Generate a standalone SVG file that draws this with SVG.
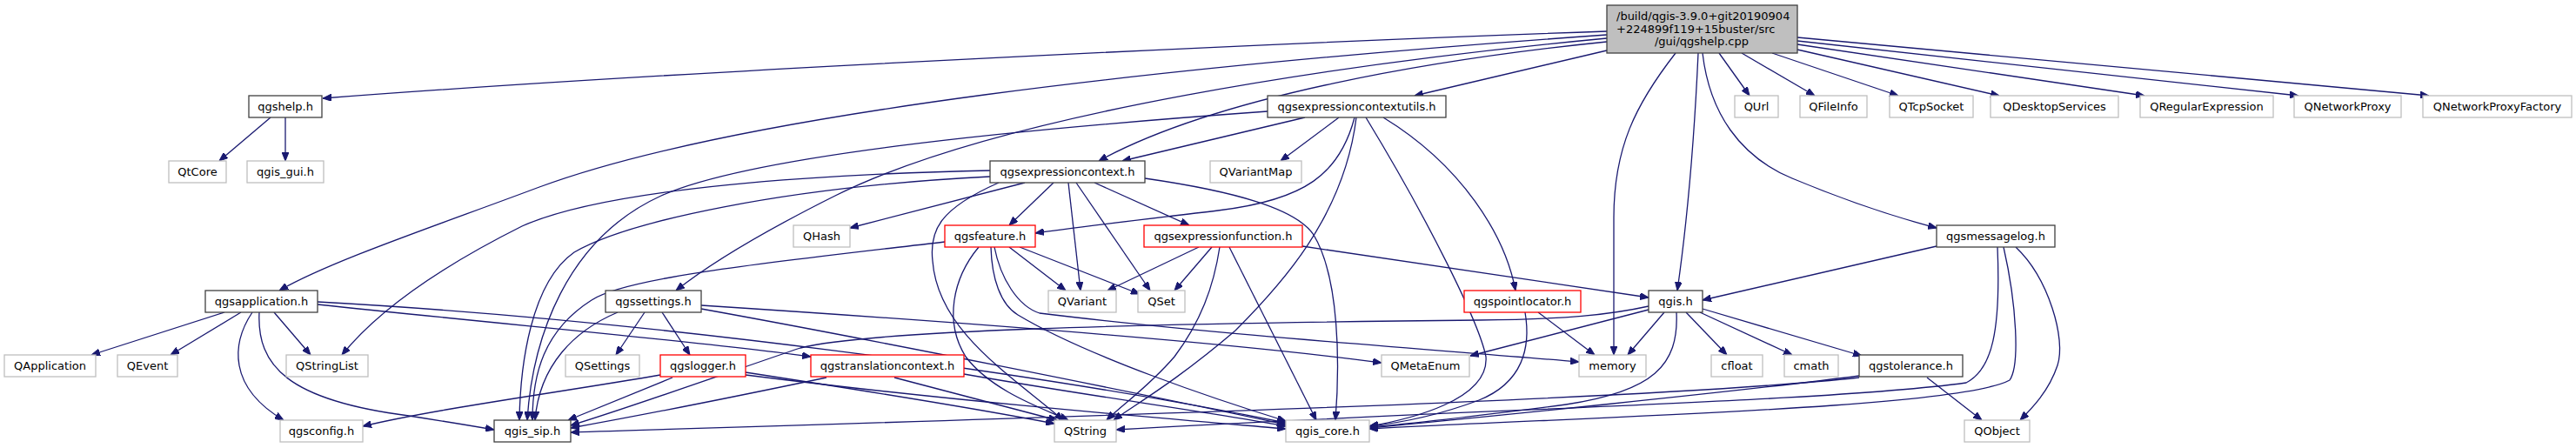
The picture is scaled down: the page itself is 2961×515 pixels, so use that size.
<svg xmlns="http://www.w3.org/2000/svg" width="2961" height="515" viewBox="0 0 2961 515">
<style>
rect{stroke-width:1.3}
.doc rect{fill:#fff;stroke:#404040}
.ext rect{fill:#fff;stroke:#bfbfbf}
.red rect{fill:#fff;stroke:#ff0000}
.main rect{fill:#bfbfbf;stroke:#404040}
text{font-family:"DejaVu Sans","Liberation Sans",sans-serif;font-size:13px;fill:#000;text-anchor:middle}
.edges path{fill:none;stroke:#191970;stroke-width:1.3;marker-end:url(#arr)}
</style>
<defs>
<marker id="arr" viewBox="0 0 10 8" refX="10" refY="4" markerWidth="10" markerHeight="8" markerUnits="userSpaceOnUse" orient="auto">
<path d="M0,0 L10,4 L0,8 z" fill="#191970" stroke="#191970" stroke-width="1"/>
</marker>
</defs>
<rect width="2961" height="515" fill="#fff"/>
<g class="edges" id="connectors">
<path d="M1847,36 C1500,48 800,80 371,113"/>
<path d="M1847,40 C1350,75 850,130 620,215 C500,260 380,300 321,334"/>
<path d="M1847,44 C1550,72 1150,130 960,225 C880,265 820,300 777,334"/>
<path d="M1847,48 C1650,68 1400,110 1263,185"/>
<path d="M1847,58 L1626,110"/>
<path d="M1926,61 C1880,120 1855,170 1855,250 L1855,408"/>
<path d="M1952,61 C1948,150 1940,250 1928,334"/>
<path d="M1957,61 C1965,130 2000,180 2060,205 C2120,230 2180,250 2226,262"/>
<path d="M1976,61 L2011,110"/>
<path d="M2002,61 L2086,110"/>
<path d="M2037,61 L2182,110"/>
<path d="M2066,57 L2298,110"/>
<path d="M2066,51 L2465,110"/>
<path d="M2066,47 L2642,110"/>
<path d="M2066,43 L2792,110"/>
<path d="M311,135 L252,185"/>
<path d="M328,135 L328,185"/>
<path d="M258,359 L105,408"/>
<path d="M277,359 L196,408"/>
<path d="M315,359 L357,408"/>
<path d="M290,359 C266,395 262,445 326,483"/>
<path d="M298,359 C295,420 330,460 470,478 C515,485 545,490 568,494"/>
<path d="M365,350 C600,375 800,392 932,410"/>
<path d="M365,347 C750,368 1200,430 1478,486"/>
<path d="M1457,128 C1150,150 860,180 760,225 C650,275 612,390 606,483"/>
<path d="M1500,135 L1290,185"/>
<path d="M1539,135 L1472,185"/>
<path d="M1557,135 C1540,200 1500,230 1400,242 C1300,254 1230,262 1190,268"/>
<path d="M1559,135 C1545,250 1470,330 1420,380 C1350,440 1300,468 1280,483"/>
<path d="M1570,135 C1640,250 1700,370 1708,410 C1712,460 1620,482 1574,490"/>
<path d="M1590,135 C1680,190 1730,270 1742,334"/>
<path d="M1138,196 C950,200 700,215 600,260 C520,300 440,350 393,408"/>
<path d="M1138,203 C900,215 720,255 660,290 C610,325 598,420 597,483"/>
<path d="M1178,210 L977,262"/>
<path d="M1148,210 C1080,240 1068,265 1072,300 C1078,380 1160,430 1222,483"/>
<path d="M1211,210 L1160,259"/>
<path d="M1228,210 L1242,334"/>
<path d="M1237,210 L1322,334"/>
<path d="M1258,210 L1367,259"/>
<path d="M1316,205 C1420,220 1490,240 1510,270 C1540,320 1540,420 1535,483"/>
<path d="M1086,278 C900,300 720,318 680,345 C625,380 612,430 612,483"/>
<path d="M1125,284 C1095,320 1085,370 1110,410 C1140,450 1200,470 1228,483"/>
<path d="M1139,284 C1140,320 1150,350 1170,362 C1250,410 1400,460 1478,484"/>
<path d="M1143,284 C1150,320 1170,352 1195,360 C1400,385 1650,402 1815,416"/>
<path d="M1160,284 L1225,334"/>
<path d="M1172,284 L1310,338"/>
<path d="M1378,284 L1273,334"/>
<path d="M1393,284 L1350,334"/>
<path d="M1402,284 C1395,330 1380,370 1350,410 C1320,445 1290,465 1272,483"/>
<path d="M1413,284 L1513,483"/>
<path d="M1497,283 L1895,342"/>
<path d="M2226,283 L1957,345"/>
<path d="M2317,284 C2355,320 2375,390 2365,420 C2355,450 2335,470 2322,483"/>
<path d="M2296,284 C2300,380 2290,425 2260,440 C2100,462 1700,470 1283,494"/>
<path d="M2303,284 C2318,350 2322,420 2310,437 C2250,470 1800,480 1574,493"/>
<path d="M741,359 L708,408"/>
<path d="M761,359 L793,408"/>
<path d="M710,359 C660,380 620,420 615,483"/>
<path d="M806,351 C1100,370 1400,392 1588,417"/>
<path d="M806,355 C1000,390 1300,450 1478,488"/>
<path d="M1895,356 L1690,409"/>
<path d="M1913,359 L1871,408"/>
<path d="M1938,359 L1985,408"/>
<path d="M1954,359 L2060,408"/>
<path d="M1957,355 L2140,409"/>
<path d="M1927,359 C1930,420 1900,450 1800,465 C1700,478 1620,487 1574,491"/>
<path d="M1895,352 C1850,362 1800,367 1700,368 C1300,372 1000,380 920,400 C860,420 720,470 656,489"/>
<path d="M1768,359 L1833,408"/>
<path d="M1753,359 C1760,400 1750,440 1700,460 C1660,475 1620,485 1574,490"/>
<path d="M759,431 C650,450 500,470 417,490"/>
<path d="M773,434 L653,483"/>
<path d="M857,428 C1000,450 1150,475 1212,487"/>
<path d="M857,431 C1100,462 1350,482 1478,493"/>
<path d="M950,434 C850,455 750,475 656,492"/>
<path d="M1028,434 L1215,483"/>
<path d="M1108,430 C1250,455 1400,475 1478,490"/>
<path d="M2215,434 L2278,483"/>
<path d="M2137,432 C2000,450 1700,480 1574,492"/>
<path d="M2137,434 C1900,460 1200,480 656,497"/>
</g>
<g id="node-main" class="main"><rect x="1847" y="6" width="219" height="55"/>
<text x="1858" y="23" style="text-anchor:start">/build/qgis-3.9.0+git20190904</text>
<text x="1858" y="38" style="text-anchor:start">+224899f119+15buster/src</text>
<text x="1956" y="52">/gui/qgshelp.cpp</text></g>
<g id="node-qgshelp" class="doc"><rect x="286" y="110" width="84" height="25"/><text x="328" y="127">qgshelp.h</text></g>
<g id="node-QtCore" class="ext"><rect x="194" y="185" width="66" height="25"/><text x="227" y="202">QtCore</text></g>
<g id="node-qgis_gui" class="ext"><rect x="284" y="185" width="88" height="25"/><text x="328" y="202">qgis_gui.h</text></g>
<g id="node-ctxutils" class="doc"><rect x="1457" y="110" width="205" height="25"/><text x="1559.5" y="127">qgsexpressioncontextutils.h</text></g>
<g id="node-QUrl" class="ext"><rect x="1994" y="110" width="50" height="25"/><text x="2019" y="127">QUrl</text></g>
<g id="node-QFileInfo" class="ext"><rect x="2069" y="110" width="77" height="25"/><text x="2107.5" y="127">QFileInfo</text></g>
<g id="node-QTcpSocket" class="ext"><rect x="2172" y="110" width="96" height="25"/><text x="2220" y="127">QTcpSocket</text></g>
<g id="node-QDesktopServices" class="ext"><rect x="2288" y="110" width="147" height="25"/><text x="2361.5" y="127">QDesktopServices</text></g>
<g id="node-QRegularExpression" class="ext"><rect x="2460" y="110" width="153" height="25"/><text x="2536.5" y="127">QRegularExpression</text></g>
<g id="node-QNetworkProxy" class="ext"><rect x="2637" y="110" width="123" height="25"/><text x="2698.5" y="127">QNetworkProxy</text></g>
<g id="node-QNetworkProxyFactory" class="ext"><rect x="2785" y="110" width="171" height="25"/><text x="2870.5" y="127">QNetworkProxyFactory</text></g>
<g id="node-ctx" class="doc"><rect x="1138" y="185" width="178" height="25"/><text x="1227" y="202">qgsexpressioncontext.h</text></g>
<g id="node-QVariantMap" class="ext"><rect x="1391" y="185" width="105" height="25"/><text x="1443.5" y="202">QVariantMap</text></g>
<g id="node-QHash" class="ext"><rect x="912" y="259" width="65" height="25"/><text x="944.5" y="276">QHash</text></g>
<g id="node-qgsfeature" class="red"><rect x="1086" y="259" width="104" height="25"/><text x="1138" y="276">qgsfeature.h</text></g>
<g id="node-exprfunc" class="red"><rect x="1315" y="259" width="182" height="25"/><text x="1406" y="276">qgsexpressionfunction.h</text></g>
<g id="node-msglog" class="doc"><rect x="2226" y="259" width="136" height="25"/><text x="2294" y="276">qgsmessagelog.h</text></g>
<g id="node-qgsapplication" class="doc"><rect x="236" y="334" width="129" height="25"/><text x="300.5" y="351">qgsapplication.h</text></g>
<g id="node-qgssettings" class="doc"><rect x="696" y="334" width="110" height="25"/><text x="751" y="351">qgssettings.h</text></g>
<g id="node-QVariant" class="ext"><rect x="1205" y="334" width="78" height="25"/><text x="1244" y="351">QVariant</text></g>
<g id="node-QSet" class="ext"><rect x="1308" y="334" width="54" height="25"/><text x="1335" y="351">QSet</text></g>
<g id="node-pointlocator" class="red"><rect x="1683" y="334" width="134" height="25"/><text x="1750" y="351">qgspointlocator.h</text></g>
<g id="node-qgis" class="doc"><rect x="1895" y="334" width="62" height="25"/><text x="1926" y="351">qgis.h</text></g>
<g id="node-QApplication" class="ext"><rect x="5" y="408" width="105" height="25"/><text x="57.5" y="425">QApplication</text></g>
<g id="node-QEvent" class="ext"><rect x="135" y="408" width="69" height="25"/><text x="169.5" y="425">QEvent</text></g>
<g id="node-QStringList" class="ext"><rect x="329" y="408" width="94" height="25"/><text x="376" y="425">QStringList</text></g>
<g id="node-QSettings" class="ext"><rect x="650" y="408" width="85" height="25"/><text x="692.5" y="425">QSettings</text></g>
<g id="node-qgslogger" class="red"><rect x="759" y="408" width="98" height="25"/><text x="808" y="425">qgslogger.h</text></g>
<g id="node-transctx" class="red"><rect x="932" y="408" width="176" height="25"/><text x="1020" y="425">qgstranslationcontext.h</text></g>
<g id="node-QMetaEnum" class="ext"><rect x="1588" y="408" width="101" height="25"/><text x="1638.5" y="425">QMetaEnum</text></g>
<g id="node-memory" class="ext"><rect x="1815" y="408" width="77" height="25"/><text x="1853.5" y="425">memory</text></g>
<g id="node-cfloat" class="ext"><rect x="1967" y="408" width="59" height="25"/><text x="1996.5" y="425">cfloat</text></g>
<g id="node-cmath" class="ext"><rect x="2051" y="408" width="62" height="25"/><text x="2082" y="425">cmath</text></g>
<g id="node-qgstolerance" class="doc"><rect x="2137" y="408" width="119" height="25"/><text x="2196.5" y="425">qgstolerance.h</text></g>
<g id="node-qgsconfig" class="ext"><rect x="322" y="483" width="95" height="25"/><text x="369.5" y="500">qgsconfig.h</text></g>
<g id="node-qgis_sip" class="doc"><rect x="568" y="483" width="88" height="25"/><text x="612" y="500">qgis_sip.h</text></g>
<g id="node-QString" class="ext"><rect x="1212" y="483" width="71" height="25"/><text x="1247.5" y="500">QString</text></g>
<g id="node-qgis_core" class="ext"><rect x="1478" y="483" width="96" height="25"/><text x="1526" y="500">qgis_core.h</text></g>
<g id="node-QObject" class="ext"><rect x="2258" y="483" width="75" height="25"/><text x="2295.5" y="500">QObject</text></g>
</svg>
